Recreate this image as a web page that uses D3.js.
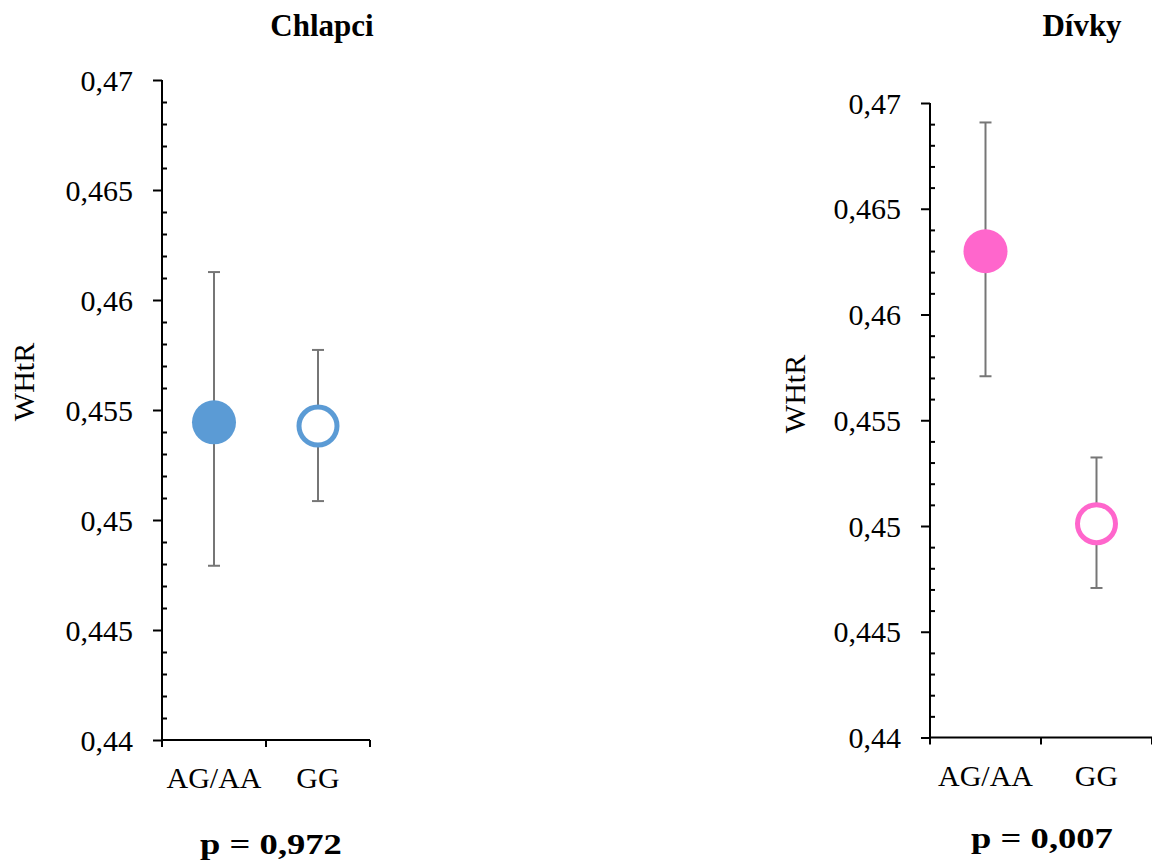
<!DOCTYPE html>
<html>
<head>
<meta charset="utf-8">
<script src="https://cdn.jsdelivr.net/npm/d3@7"></script>
<style>
  body { margin: 0; background: #fff; }
  svg { display: block; font-family: "Liberation Serif", "Times New Roman", serif; }
</style>
</head>
<body>
<svg id="chart" width="1152" height="866"></svg>
<script>
// data
var categories = ["AG/AA", "GG"];
var boysMean = [0.45444, 0.45427];
var boysLow = [0.44792, 0.45086];
var boysHigh = [0.46127, 0.45773];
var girlsMean = [0.46299, 0.45011];
var girlsLow = [0.45708, 0.44707];
var girlsHigh = [0.46908, 0.45324];
var titles = ["Chlapci", "Dívky"];
var pLabels = ["p = 0,972", "p = 0,007"];
var yLabel = "WHtR";
var yDomain = [0.44, 0.47];

var svg = d3.select("#chart");

var panels = [
  { title: titles[0], p: pLabels[0], mean: boysMean, low: boysLow, high: boysHigh,
    color: "#5b9bd5", x0: 162, x1: 370, yTop: 80, yBot: 740,
    titleX: 322, labelX: 34, labelY: 382, pX: 271, pY: 854 },
  { title: titles[1], p: pLabels[1], mean: girlsMean, low: girlsLow, high: girlsHigh,
    color: "#ff66cc", x0: 930, x1: 1152, yTop: 103, yBot: 737.5,
    titleX: 1082, labelX: 805, labelY: 394, pX: 1042, pY: 848 }
];

var fmt = d => String(+d.toFixed(3)).replace(".", ",");

panels.forEach(function(pn) {
  var g = svg.append("g");

  var x = d3.scaleBand().domain(categories).range([pn.x0, pn.x1]);
  var y = d3.scaleLinear().domain(yDomain).range([pn.yBot, pn.yTop]);

  var majors = d3.range(0, 7).map(i => yDomain[0] + i * 0.005);
  var minors = d3.range(0, 31).map(i => yDomain[0] + i * 0.001)
    .filter((d, i) => i % 5 != 0);

  // minor ticks point inward
  g.append("g")
    .attr("transform", `translate(${pn.x0},0)`)
    .call(d3.axisRight(y).tickValues(minors).tickSize(5).tickFormat(""))
    .call(a => a.select(".domain").remove())
    .selectAll("line").attr("stroke", "#000").attr("stroke-width", 2);

  var yAxis = g.append("g")
    .attr("transform", `translate(${pn.x0},0)`)
    .call(d3.axisLeft(y).tickValues(majors).tickSize(9).tickPadding(20).tickFormat(fmt));
  yAxis.select(".domain").attr("stroke", "#000").attr("stroke-width", 2)
    .attr("d", `M0,${pn.yBot}V${pn.yTop}`);
  yAxis.selectAll("line").attr("stroke", "#000").attr("stroke-width", 2);
  yAxis.selectAll("text").attr("font-family", "Liberation Serif")
    .attr("font-size", 30).attr("fill", "#000").attr("dy", "0.34em");

  var xAxis = g.append("g")
    .attr("transform", `translate(0,${pn.yBot})`)
    .call(d3.axisBottom(x).tickSize(0).tickPadding(0));
  xAxis.select(".domain").attr("stroke", "#000").attr("stroke-width", 2)
    .attr("d", `M${pn.x0},0H${pn.x1}`);
  xAxis.selectAll("text").attr("font-family", "Liberation Serif")
    .attr("font-size", 30).attr("fill", "#000").attr("dy", null).attr("y", 48);
  // category boundary ticks
  xAxis.selectAll("line.sep")
    .data([pn.x0, pn.x0 + x.step(), pn.x1])
    .enter().append("line")
    .attr("class", "sep")
    .attr("x1", d => d).attr("x2", d => d)
    .attr("y1", 0).attr("y2", 7)
    .attr("stroke", "#000").attr("stroke-width", 2);

  var cx = c => x(c) + x.bandwidth() / 2;

  // error bars
  var bars = g.append("g").selectAll("g")
    .data(categories)
    .enter().append("g")
    .attr("stroke", "#767676").attr("stroke-width", 2);
  bars.append("line")
    .attr("x1", cx).attr("x2", cx)
    .attr("y1", (d, i) => y(pn.high[i])).attr("y2", (d, i) => y(pn.low[i]));
  bars.append("line")
    .attr("x1", d => cx(d) - 6).attr("x2", d => cx(d) + 6)
    .attr("y1", (d, i) => y(pn.high[i])).attr("y2", (d, i) => y(pn.high[i]));
  bars.append("line")
    .attr("x1", d => cx(d) - 6).attr("x2", d => cx(d) + 6)
    .attr("y1", (d, i) => y(pn.low[i])).attr("y2", (d, i) => y(pn.low[i]));

  // markers: filled for AG/AA, open for GG
  g.append("g").selectAll("circle")
    .data(categories)
    .enter().append("circle")
    .attr("cx", cx)
    .attr("cy", (d, i) => y(pn.mean[i]))
    .attr("r", (d, i) => i == 0 ? 22 : 19)
    .attr("fill", (d, i) => i == 0 ? pn.color : "#fff")
    .attr("stroke", (d, i) => i == 0 ? "none" : pn.color)
    .attr("stroke-width", 5);

  g.append("text")
    .text(pn.title)
    .attr("x", pn.titleX).attr("y", 36)
    .attr("text-anchor", "middle")
    .attr("font-weight", "bold").attr("font-size", 31);

  g.append("text")
    .text(yLabel)
    .attr("transform", `translate(${pn.labelX},${pn.labelY}) rotate(-90)`)
    .attr("text-anchor", "middle")
    .attr("font-size", 30);

  // p value, drawn horizontally stretched like the original
  g.append("text")
    .text(pn.p)
    .attr("transform", `translate(${pn.pX},${pn.pY}) scale(1.22,1)`)
    .attr("text-anchor", "middle")
    .attr("font-weight", "bold").attr("font-size", 30);
});
</script>
</body>
</html>
